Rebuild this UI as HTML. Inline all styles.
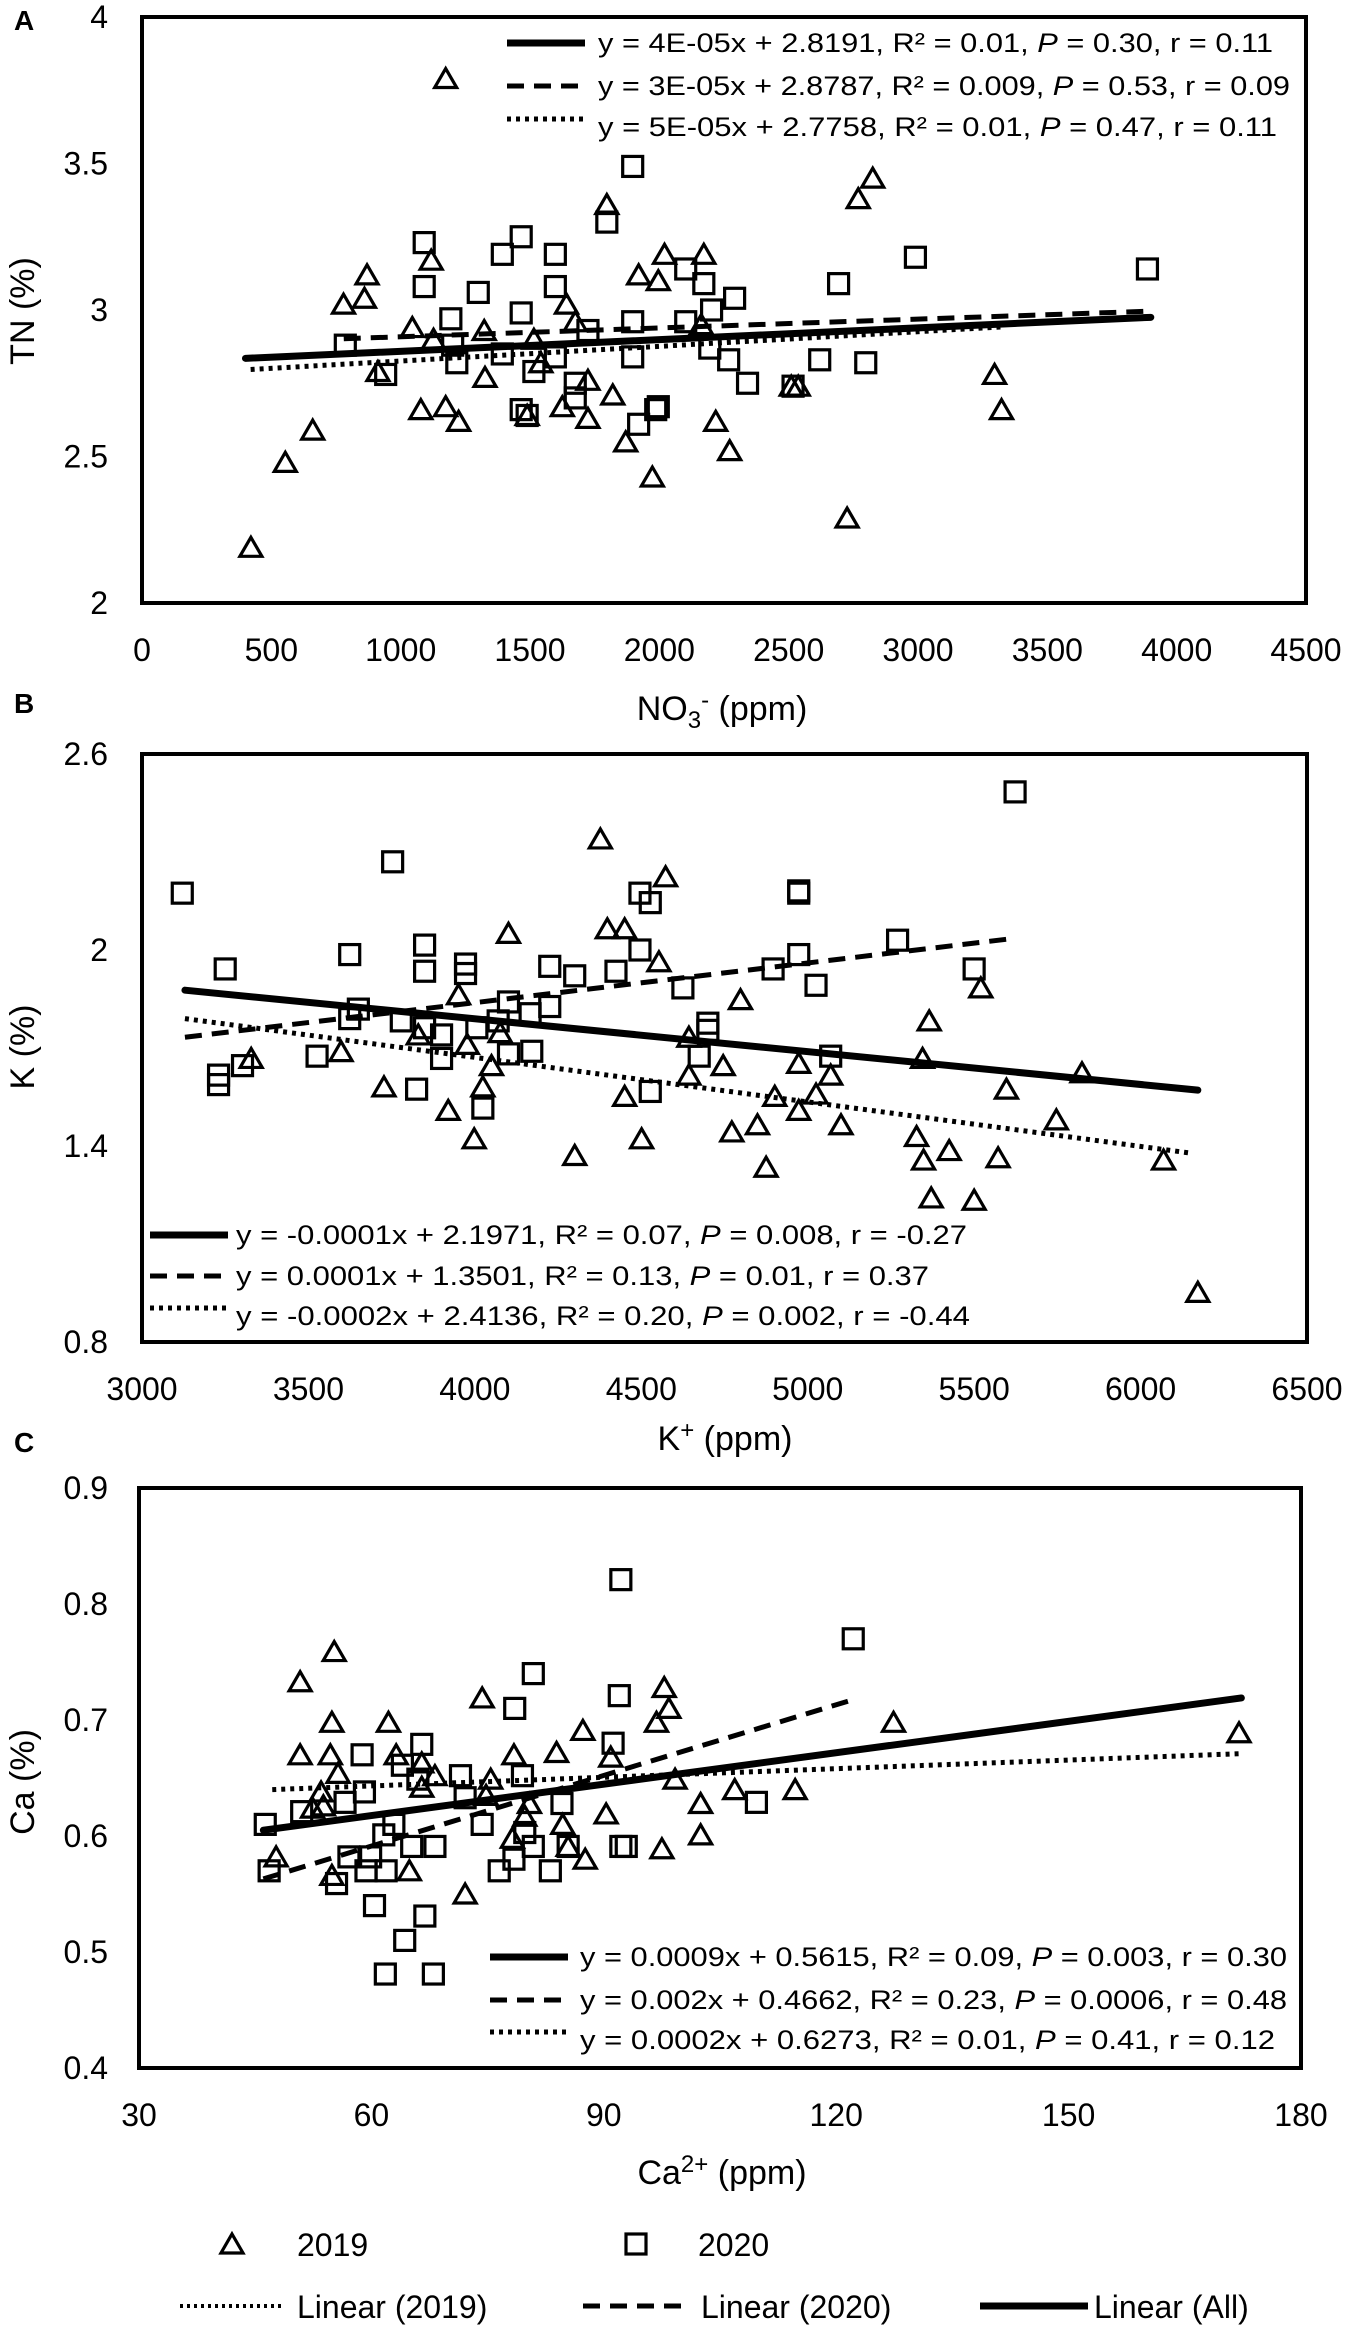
<!DOCTYPE html>
<html><head><meta charset="utf-8"><style>
html,body{margin:0;padding:0;background:#fff;}
svg{display:block;font-family:"Liberation Sans",Arial,sans-serif;}
</style></head><body>
<svg id="fig" width="1350" height="2325" viewBox="0 0 1350 2325" xmlns="http://www.w3.org/2000/svg">
<rect x="0" y="0" width="1350" height="2325" fill="#fff"/>
</svg>
<script>
// ---------- Panel A data ----------
const aTriX=[421,554,660,779,860,870,912,1078,1045,1118,1174,1174,1224,1127,1323,1326,1515,1542,1489,1625,1641,1675,1724,1724,1820,1797,1870,1920,1973,1996,2020,2172,2162,2218,2272,2510,2537,2726,2769,2825,3296,3323];
const aTriY=[2.19,2.48,2.59,3.02,3.04,3.12,2.79,2.66,2.94,3.17,3.79,2.67,2.62,2.90,2.93,2.77,2.90,2.82,2.64,2.67,3.02,2.96,2.63,2.76,2.71,3.36,2.55,3.12,2.43,3.10,3.19,3.19,2.95,2.62,2.52,2.74,2.74,2.29,3.38,3.45,2.78,2.66];
const aSqX=[786,942,1091,1091,1194,1201,1217,1300,1393,1393,1466,1466,1466,1489,1515,1598,1598,1598,1675,1675,1724,1797,1897,1897,1897,1920,1986,1996,2102,2102,2172,2202,2195,2268,2291,2341,2517,2620,2693,2798,2990,3887];
const aSqY=[2.88,2.78,3.23,3.08,2.97,2.88,2.82,3.06,3.19,2.85,3.25,2.99,2.66,2.64,2.79,3.19,3.08,2.84,2.75,2.70,2.93,3.30,3.49,2.96,2.84,2.61,2.66,2.67,3.14,2.96,3.09,3.00,2.87,2.83,3.04,2.75,2.74,2.83,3.09,2.82,3.18,3.14];
const aLineAll=[400,2.835,3900,2.975];
const aLine2020=[780,2.902,3900,2.996];
const aLine2019=[420,2.797,3320,2.942];
const aXTicks=[0,500,1000,1500,2000,2500,3000,3500,4000,4500];
const aYTicks=[2,2.5,3,3.5,4];
const aEq=["y = 4E-05x + 2.8191, R² = 0.01, |P| = 0.30, r = 0.11","y = 3E-05x + 2.8787, R² = 0.009, |P| = 0.53, r = 0.09","y = 5E-05x + 2.7758, R² = 0.01, |P| = 0.47, r = 0.11"];

// ---------- Panel B data ----------
const bTriX=[3328,3598,3727,3830,3920,3951,3977,3998,4024,4050,4076,4101,4300,4377,4398,4450,4450,4501,4553,4573,4643,4643,4746,4772,4798,4849,4875,4901,4973,4973,5025,5069,5100,5327,5345,5348,5365,5371,5425,5500,5520,5572,5597,5747,5824,6069,6172];
const bTriY=[1.668,1.689,1.581,1.74,1.509,1.863,1.711,1.422,1.581,1.646,1.747,2.051,1.371,2.34,2.065,2.065,1.552,1.422,1.964,2.224,1.733,1.617,1.646,1.443,1.848,1.465,1.335,1.552,1.653,1.509,1.559,1.617,1.465,1.429,1.668,1.357,1.783,1.241,1.386,1.234,1.884,1.364,1.574,1.48,1.624,1.357,0.952];
const bSqX=[3121,3230,3230,3250,3302,3526,3624,3624,3650,3753,3779,3825,3849,3849,3849,3900,3900,3972,3972,4006,4024,4070,4101,4101,4166,4171,4225,4225,4300,4424,4496,4527,4496,4527,4625,4674,4700,4700,4896,4973,4973,4973,5025,5069,5270,5500,5623];
const bSqY=[2.174,1.617,1.588,1.942,1.646,1.675,1.986,1.79,1.819,2.27,1.783,1.574,2.015,1.935,1.762,1.668,1.74,1.957,1.928,1.762,1.516,1.783,1.841,1.682,1.805,1.69,1.827,1.95,1.921,1.935,2.174,2.145,2.0,1.567,1.884,1.675,1.776,1.754,1.942,2.181,2.174,1.986,1.892,1.675,2.03,1.942,2.484];
const bLineAll=[3129,1.877,6172,1.571];
const bLine2020=[3129,1.733,5623,2.036];
const bLine2019=[3129,1.79,6152,1.378];
const bXTicks=[3000,3500,4000,4500,5000,5500,6000,6500];
const bYTicks=[0.8,1.4,2,2.6];
const bEq=["y = -0.0001x + 2.1971, R² = 0.07, |P| = 0.008, r = -0.27","y = 0.0001x + 1.3501, R² = 0.13, |P| = 0.01, r = 0.37","y = -0.0002x + 2.4136, R² = 0.20, |P| = 0.002, r = -0.44"];

// ---------- Panel C data ----------
const cTriX=[47.7,50.8,50.8,52.4,53.5,53.8,54.9,55.2,54.9,54.7,55.7,62.2,63.2,64.9,66.5,66.5,68.2,72.1,74.3,75.4,74.8,78.4,78.2,79.8,80.4,83.9,84.7,85.4,87.3,87.6,90.3,90.9,96.8,97.8,98.4,97.5,99.2,102.5,102.5,106.9,114.7,127.4,172.0];
const cTriY=[0.582,0.733,0.67,0.624,0.638,0.626,0.566,0.759,0.698,0.67,0.654,0.698,0.67,0.57,0.663,0.642,0.652,0.55,0.719,0.649,0.635,0.67,0.598,0.617,0.628,0.672,0.61,0.591,0.691,0.58,0.619,0.668,0.698,0.728,0.71,0.589,0.649,0.628,0.601,0.64,0.64,0.698,0.689];
const cSqX=[46.3,46.8,51.0,55.5,56.6,57.1,58.8,59.1,59.3,59.9,60.4,61.6,61.9,61.8,62.9,64.0,64.3,65.2,66.0,66.5,66.9,68.2,68.0,71.5,72.1,74.3,76.5,78.5,78.4,79.5,79.8,80.9,80.9,83.1,84.6,85.4,91.2,92.0,92.2,92.2,92.9,109.7,122.2];
const cSqY=[0.61,0.57,0.621,0.559,0.629,0.582,0.67,0.638,0.57,0.582,0.54,0.601,0.57,0.481,0.61,0.661,0.51,0.591,0.649,0.679,0.531,0.591,0.481,0.652,0.633,0.61,0.57,0.71,0.58,0.652,0.603,0.74,0.591,0.57,0.628,0.591,0.68,0.721,0.821,0.591,0.591,0.629,0.77];
const cLineAll=[46.05,0.605,172.3,0.719];
const cLine2020=[46.05,0.563,122.4,0.718];
const cLine2019=[47.2,0.640,172.3,0.671];
const cXTicks=[30,60,90,120,150,180];
const cYTicks=[0.4,0.5,0.6,0.7,0.8,0.9];
const cEq=["y = 0.0009x + 0.5615, R² = 0.09, |P| = 0.003, r = 0.30","y = 0.002x + 0.4662, R² = 0.23, |P| = 0.0006, r = 0.48","y = 0.0002x + 0.6273, R² = 0.01, |P| = 0.41, r = 0.12"];

const NS="http://www.w3.org/2000/svg";
const svg=document.getElementById('fig');
function mk(tag,attrs,parent){const e=document.createElementNS(NS,tag);for(const k in attrs)e.setAttribute(k,attrs[k]);(parent||svg).appendChild(e);return e;}
const STYLES={all:{w:7,dash:null},y2020:{w:5,dash:"17,10"},y2019:{w:5,dash:"4,5"}};

function eqText(g,str,x,y,len){
  const t=mk('text',{x:x,y:y,'font-size':27,'dominant-baseline':'central',textLength:len,lengthAdjust:'spacingAndGlyphs'},g);
  
  
  const parts=str.split('|');
  parts.forEach((p,i)=>{const s=document.createElementNS(NS,'tspan');s.textContent=p;if(i%2===1)s.setAttribute('font-style','italic');t.appendChild(s);});
}

function panel(cfg){
  const g=mk('g',{});
  
  
  const X=v=>cfg.x0+(v-cfg.xmin)/(cfg.xmax-cfg.xmin)*(cfg.x1-cfg.x0);
  const Y=v=>cfg.y1-(v-cfg.ymin)/(cfg.ymax-cfg.ymin)*(cfg.y1-cfg.y0);
  // frame
  const fr=mk('rect',{x:cfg.x0,y:cfg.y0,width:cfg.x1-cfg.x0,height:cfg.y1-cfg.y0,fill:'none',stroke:'#000','stroke-width':4},g);
  
  
  // ticks
  cfg.xt.forEach(v=>{const t=mk('text',{x:X(v),y:cfg.y1+58,'font-size':32,'text-anchor':'middle'},g);t.textContent=String(v);
    
    });
  cfg.yt.forEach(v=>{const t=mk('text',{x:108,y:Y(v),'font-size':32,'text-anchor':'end','dominant-baseline':'central'},g);t.textContent=String(v);
    
    });
  // points
  const tri=(x,y)=>{const p=mk('polygon',{points:`${x},${y-10} ${x+11},${y+9} ${x-11},${y+9}`,fill:'none',stroke:'#000','stroke-width':3.2,'stroke-linejoin':'miter'},g);
    
    };
  const sq=(x,y)=>{const p=mk('rect',{x:x-10,y:y-10,width:20,height:20,fill:'none',stroke:'#000','stroke-width':3.2},g);
    
    };
  cfg.tx.forEach((v,i)=>tri(X(v),Y(cfg.ty[i])));
  cfg.sx.forEach((v,i)=>sq(X(v),Y(cfg.sy[i])));
  // trendlines
  const line=(L,st,name)=>{const a={x1:X(L[0]),y1:Y(L[1]),x2:X(L[2]),y2:Y(L[3]),stroke:'#000','stroke-width':st.w,'stroke-linecap':st.dash?'butt':'round'};
    if(st.dash)a['stroke-dasharray']=st.dash;const l=mk('line',a,g);
    
    };
  line(cfg.l19,STYLES.y2019,'trendline-2019');
  line(cfg.l20,STYLES.y2020,'trendline-2020');
  line(cfg.lAll,STYLES.all,'trendline-all');
  // equation legend
  const keys=[STYLES.all,STYLES.y2020,STYLES.y2019];
  cfg.eq.forEach((s,i)=>{const yy=cfg.ey[i];
    const a={x1:cfg.sx0,y1:yy-(i===2?8:0),x2:cfg.sx0+78,y2:yy-(i===2?8:0),stroke:'#000','stroke-width':keys[i].w};
    if(keys[i].dash)a['stroke-dasharray']=keys[i].dash;
    const l=mk('line',a,g);
    
    
    eqText(g,s,cfg.tx0,yy,cfg.elen[i]);});
  // panel letter
  const pl=mk('text',{x:14,y:cfg.ly,'font-size':28,'font-weight':'bold'},g);pl.textContent=cfg.letter;
  
  
}

panel({name:'panel-a',letter:'A',ly:30,x0:142,x1:1306,y0:17,y1:603,xmin:0,xmax:4500,ymin:2,ymax:4,xt:aXTicks,yt:aYTicks,
  tx:aTriX,ty:aTriY,sx:aSqX,sy:aSqY,lAll:aLineAll,l20:aLine2020,l19:aLine2019,eq:aEq,ey:[43,86,127],sx0:507,tx0:598,elen:[675,692,679]});
panel({name:'panel-b',letter:'B',ly:713,x0:142,x1:1307,y0:754,y1:1342,xmin:3000,xmax:6500,ymin:0.8,ymax:2.6,xt:bXTicks,yt:bYTicks,
  tx:bTriX,ty:bTriY,sx:bSqX,sy:bSqY,lAll:bLineAll,l20:bLine2020,l19:bLine2019,eq:bEq,ey:[1235,1276,1316],sx0:150,tx0:236,elen:[731,693,734]});
panel({name:'panel-c',letter:'C',ly:1452,x0:139,x1:1301,y0:1488,y1:2068,xmin:30,xmax:180,ymin:0.4,ymax:0.9,xt:cXTicks,yt:cYTicks,
  tx:cTriX,ty:cTriY,sx:cSqX,sy:cSqY,lAll:cLineAll,l20:cLine2020,l19:cLine2019,eq:cEq,ey:[1957,2000,2040],sx0:490,tx0:580,elen:[707,707,695]});
</script>
<!-- axis titles -->
<svg style="position:absolute;left:0;top:0" width="1350" height="2325">
<g font-family="Liberation Sans, Arial, sans-serif" font-size="34">
<text x="722" y="720" text-anchor="middle">NO<tspan font-size="24" dy="8">3</tspan><tspan font-size="24" dy="-20">-</tspan><tspan dy="12"> (ppm)</tspan></text>
<text transform="translate(34,311) rotate(-90)" text-anchor="middle">TN (%)</text>
<text x="725" y="1450" text-anchor="middle">K<tspan font-size="24" dy="-12">+</tspan><tspan dy="12"> (ppm)</tspan></text>
<text transform="translate(34,1047) rotate(-90)" text-anchor="middle">K (%)</text>
<text x="722" y="2184" text-anchor="middle">Ca<tspan font-size="24" dy="-12">2+</tspan><tspan dy="12"> (ppm)</tspan></text>
<text transform="translate(34,1782) rotate(-90)" text-anchor="middle">Ca (%)</text>
</g>
<g font-family="Liberation Sans, Arial, sans-serif" font-size="32">
<polygon points="232,2234 243,2253 221,2253" fill="none" stroke="#000" stroke-width="3.2"/>
<text x="297" y="2256">2019</text>
<rect x="626" y="2234" width="20" height="20" fill="none" stroke="#000" stroke-width="3.2"/>
<text x="698" y="2256">2020</text>
<line x1="180" y1="2306" x2="284" y2="2306" stroke="#000" stroke-width="4" stroke-dasharray="3,4"/>
<text x="297" y="2318">Linear (2019)</text>
<line x1="583" y1="2306" x2="690" y2="2306" stroke="#000" stroke-width="5" stroke-dasharray="17,10"/>
<text x="701" y="2318">Linear (2020)</text>
<line x1="980" y1="2306" x2="1088" y2="2306" stroke="#000" stroke-width="7"/>
<text x="1094" y="2318">Linear (All)</text>
</g>
</svg>
</body></html>
